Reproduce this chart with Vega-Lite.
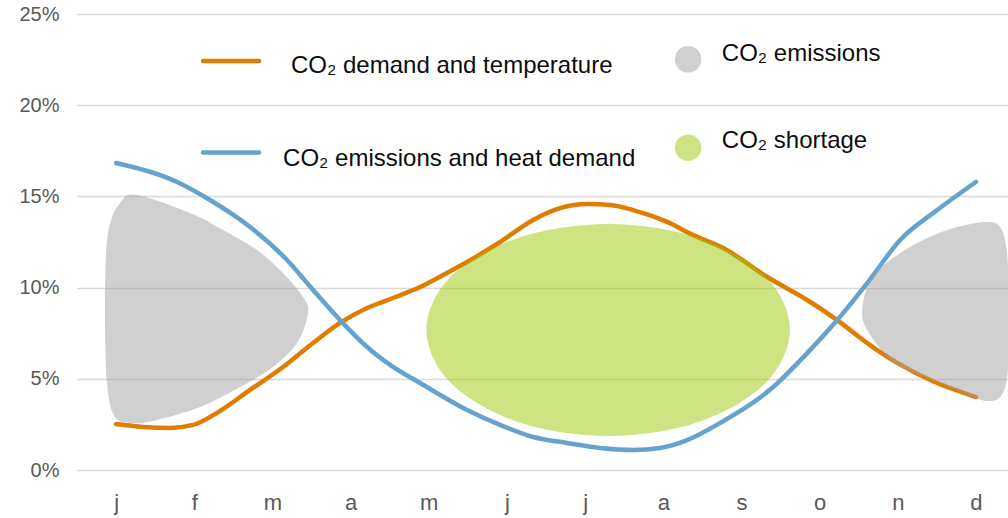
{
  "$schema": "https://vega.github.io/schema/vega-lite/v6.json",
  "width": 931,
  "height": 456,
  "autosize": "none",
  "padding": {"left": 77, "top": 14, "right": 0, "bottom": 48},
  "background": "white",
  "config": {"view": {"stroke": null}, "font": "Liberation Sans"},
  "datasets": {
    "lines": [
      {"series": "demand", "x": 1.0, "y": 2.52},
      {"series": "demand", "x": 1.345, "y": 2.36},
      {"series": "demand", "x": 1.69, "y": 2.3},
      {"series": "demand", "x": 1.984, "y": 2.47},
      {"series": "demand", "x": 2.291, "y": 3.13},
      {"series": "demand", "x": 2.714, "y": 4.39},
      {"series": "demand", "x": 3.136, "y": 5.65},
      {"series": "demand", "x": 3.52, "y": 6.96},
      {"series": "demand", "x": 3.865, "y": 8.06},
      {"series": "demand", "x": 4.211, "y": 8.88},
      {"series": "demand", "x": 4.543, "y": 9.43},
      {"series": "demand", "x": 4.889, "y": 10.03},
      {"series": "demand", "x": 5.183, "y": 10.69},
      {"series": "demand", "x": 5.49, "y": 11.4},
      {"series": "demand", "x": 5.913, "y": 12.5},
      {"series": "demand", "x": 6.335, "y": 13.71},
      {"series": "demand", "x": 6.68, "y": 14.36},
      {"series": "demand", "x": 7.026, "y": 14.58},
      {"series": "demand", "x": 7.32, "y": 14.53},
      {"series": "demand", "x": 7.615, "y": 14.25},
      {"series": "demand", "x": 8.05, "y": 13.6},
      {"series": "demand", "x": 8.382, "y": 12.88},
      {"series": "demand", "x": 8.766, "y": 12.17},
      {"series": "demand", "x": 9.329, "y": 10.58},
      {"series": "demand", "x": 9.841, "y": 9.32},
      {"series": "demand", "x": 10.225, "y": 8.22},
      {"series": "demand", "x": 10.609, "y": 6.96},
      {"series": "demand", "x": 10.993, "y": 5.87},
      {"series": "demand", "x": 11.415, "y": 4.93},
      {"series": "demand", "x": 12.0, "y": 4.0},
      {"series": "emissions", "x": 1.0, "y": 16.83},
      {"series": "emissions", "x": 1.78, "y": 15.79},
      {"series": "emissions", "x": 2.202, "y": 14.8},
      {"series": "emissions", "x": 2.714, "y": 13.32},
      {"series": "emissions", "x": 3.187, "y": 11.51},
      {"series": "emissions", "x": 3.52, "y": 9.87},
      {"series": "emissions", "x": 3.865, "y": 8.22},
      {"series": "emissions", "x": 4.211, "y": 6.74},
      {"series": "emissions", "x": 4.543, "y": 5.65},
      {"series": "emissions", "x": 4.889, "y": 4.77},
      {"series": "emissions", "x": 5.49, "y": 3.29},
      {"series": "emissions", "x": 5.913, "y": 2.47},
      {"series": "emissions", "x": 6.335, "y": 1.81},
      {"series": "emissions", "x": 6.77, "y": 1.48},
      {"series": "emissions", "x": 7.192, "y": 1.21},
      {"series": "emissions", "x": 7.615, "y": 1.1},
      {"series": "emissions", "x": 7.96, "y": 1.21},
      {"series": "emissions", "x": 8.306, "y": 1.64},
      {"series": "emissions", "x": 8.728, "y": 2.58},
      {"series": "emissions", "x": 9.406, "y": 4.55},
      {"series": "emissions", "x": 9.841, "y": 6.41},
      {"series": "emissions", "x": 10.225, "y": 8.22},
      {"series": "emissions", "x": 10.609, "y": 10.25},
      {"series": "emissions", "x": 11.031, "y": 12.61},
      {"series": "emissions", "x": 11.504, "y": 14.25},
      {"series": "emissions", "x": 12.0, "y": 15.79}
    ],
    "blobs": [
      {"blob": "winter1", "i": 1, "x": 1.268, "y": 15.08},
      {"blob": "winter1", "i": 2, "x": 1.946, "y": 14.09},
      {"blob": "winter1", "i": 3, "x": 2.368, "y": 13.16},
      {"blob": "winter1", "i": 4, "x": 2.803, "y": 12.06},
      {"blob": "winter1", "i": 5, "x": 3.136, "y": 10.8},
      {"blob": "winter1", "i": 6, "x": 3.392, "y": 9.48},
      {"blob": "winter1", "i": 7, "x": 3.456, "y": 8.61},
      {"blob": "winter1", "i": 8, "x": 3.315, "y": 6.96},
      {"blob": "winter1", "i": 9, "x": 3.008, "y": 5.65},
      {"blob": "winter1", "i": 10, "x": 2.586, "y": 4.55},
      {"blob": "winter1", "i": 11, "x": 2.074, "y": 3.45},
      {"blob": "winter1", "i": 12, "x": 1.524, "y": 2.74},
      {"blob": "winter1", "i": 13, "x": 1.217, "y": 2.58},
      {"blob": "winter1", "i": 14, "x": 0.986, "y": 2.91},
      {"blob": "winter1", "i": 15, "x": 0.884, "y": 4.77},
      {"blob": "winter1", "i": 16, "x": 0.858, "y": 9.32},
      {"blob": "winter1", "i": 17, "x": 0.897, "y": 12.99},
      {"blob": "winter1", "i": 18, "x": 1.05, "y": 14.64},
      {"blob": "winter2", "i": 1, "x": 10.545, "y": 8.77},
      {"blob": "winter2", "i": 2, "x": 10.647, "y": 10.42},
      {"blob": "winter2", "i": 3, "x": 10.903, "y": 11.51},
      {"blob": "winter2", "i": 4, "x": 11.325, "y": 12.61},
      {"blob": "winter2", "i": 5, "x": 11.76, "y": 13.32},
      {"blob": "winter2", "i": 6, "x": 12.144, "y": 13.6},
      {"blob": "winter2", "i": 7, "x": 12.311, "y": 13.32},
      {"blob": "winter2", "i": 8, "x": 12.387, "y": 12.23},
      {"blob": "winter2", "i": 9, "x": 12.413, "y": 10.58},
      {"blob": "winter2", "i": 10, "x": 12.413, "y": 7.29},
      {"blob": "winter2", "i": 11, "x": 12.4, "y": 5.1},
      {"blob": "winter2", "i": 12, "x": 12.311, "y": 4.0},
      {"blob": "winter2", "i": 13, "x": 12.157, "y": 3.78},
      {"blob": "winter2", "i": 14, "x": 11.965, "y": 4.0},
      {"blob": "winter2", "i": 15, "x": 11.543, "y": 4.77},
      {"blob": "winter2", "i": 16, "x": 11.121, "y": 5.48},
      {"blob": "winter2", "i": 17, "x": 10.9, "y": 6.03},
      {"blob": "winter2", "i": 18, "x": 10.609, "y": 7.68}
    ],
    "ellipse": [
      {"i": 1, "x": 9.62, "y": 7.68},
      {"i": 2, "x": 9.31, "y": 10.59},
      {"i": 3, "x": 8.46, "y": 12.71},
      {"i": 4, "x": 7.3, "y": 13.49},
      {"i": 5, "x": 6.13, "y": 12.71},
      {"i": 6, "x": 5.28, "y": 10.59},
      {"i": 7, "x": 4.97, "y": 7.68},
      {"i": 8, "x": 5.28, "y": 4.78},
      {"i": 9, "x": 6.13, "y": 2.65},
      {"i": 10, "x": 7.3, "y": 1.87},
      {"i": 11, "x": 8.46, "y": 2.65},
      {"i": 12, "x": 9.31, "y": 4.78}
    ],
    "legendLines": [
      {"series": "demand", "x": 2.112, "y": 22.42},
      {"series": "demand", "x": 2.829, "y": 22.42},
      {"series": "emissions", "x": 2.112, "y": 17.4},
      {"series": "emissions", "x": 2.829, "y": 17.4}
    ],
    "legendDots": [
      {"kind": "CO₂ emissions", "x": 8.318, "y": 22.52},
      {"kind": "CO₂ shortage", "x": 8.318, "y": 17.67}
    ],
    "legendText": [
      {"label": "CO₂ demand and temperature", "x": 3.238, "y": 21.78},
      {"label": "CO₂ emissions and heat demand", "x": 3.136, "y": 16.67},
      {"label": "CO₂ emissions", "x": 8.749, "y": 22.44},
      {"label": "CO₂ shortage", "x": 8.749, "y": 17.64}
    ]
  },
  "layer": [
    {
      "data": {"name": "lines"},
      "mark": {"type": "line", "strokeWidth": 4.5, "strokeCap": "round", "strokeJoin": "round", "interpolate": "monotone"},
      "encoding": {
        "x": {
          "field": "x", "type": "quantitative",
          "scale": {"domain": [0.5, 12.41], "nice": false, "zero": false},
          "axis": {
            "title": null, "values": [1, 2, 3, 4, 5, 6, 7, 8, 9, 10, 11, 12],
            "labelExpr": "['j','f','m','a','m','j','j','a','s','o','n','d'][datum.value - 1]",
            "grid": false, "domain": false, "ticks": false,
            "labelFontSize": 22, "labelColor": "#595959", "labelPadding": 22,
            "labelFont": "Liberation Sans", "labelFlush": false, "labelOverlap": false
          }
        },
        "y": {
          "field": "y", "type": "quantitative",
          "scale": {"domain": [0, 25], "nice": false},
          "axis": {
            "title": null, "values": [0, 5, 10, 15, 20, 25],
            "labelExpr": "datum.value + '%'",
            "grid": true, "gridColor": "#D9D9D9", "gridWidth": 1.5,
            "domain": false, "ticks": false,
            "labelFontSize": 20, "labelColor": "#595959", "labelPadding": 18,
            "labelFont": "Liberation Sans"
          }
        },
        "color": {
          "field": "series", "type": "nominal",
          "scale": {"domain": ["demand", "emissions"], "range": ["#E07C00", "#65A2CD"]},
          "legend": null
        }
      }
    },
    {
      "data": {"name": "legendLines"},
      "mark": {"type": "line", "strokeWidth": 4.5, "strokeCap": "round"},
      "encoding": {
        "x": {"field": "x", "type": "quantitative"},
        "y": {"field": "y", "type": "quantitative"},
        "color": {"field": "series", "type": "nominal", "legend": null}
      }
    },
    {
      "data": {"name": "blobs"},
      "mark": {"type": "line", "filled": true, "fill": "#A1A1A1", "fillOpacity": 0.5, "strokeOpacity": 0, "interpolate": "cardinal-closed"},
      "encoding": {
        "x": {"field": "x", "type": "quantitative"},
        "y": {"field": "y", "type": "quantitative"},
        "detail": {"field": "blob", "type": "nominal"},
        "order": {"field": "i", "type": "quantitative"}
      }
    },
    {
      "data": {"name": "ellipse"},
      "mark": {"type": "line", "filled": true, "fill": "#9DC905", "fillOpacity": 0.5, "strokeOpacity": 0, "interpolate": "cardinal-closed"},
      "encoding": {
        "x": {"field": "x", "type": "quantitative"},
        "y": {"field": "y", "type": "quantitative"},
        "order": {"field": "i", "type": "quantitative"}
      }
    },
    {
      "data": {"name": "legendDots"},
      "mark": {"type": "circle", "size": 707, "opacity": 0.5},
      "encoding": {
        "x": {"field": "x", "type": "quantitative"},
        "y": {"field": "y", "type": "quantitative"},
        "fill": {
          "field": "kind", "type": "nominal",
          "scale": {"domain": ["CO₂ emissions", "CO₂ shortage"], "range": ["#A1A1A1", "#9DC905"]},
          "legend": null
        }
      }
    },
    {
      "data": {"name": "legendText"},
      "mark": {"type": "text", "align": "left", "baseline": "alphabetic", "fontSize": 24, "font": "Liberation Sans", "color": "#0D0D0D"},
      "encoding": {
        "x": {"field": "x", "type": "quantitative"},
        "y": {"field": "y", "type": "quantitative"},
        "text": {"field": "label", "type": "nominal"}
      }
    }
  ]
}
